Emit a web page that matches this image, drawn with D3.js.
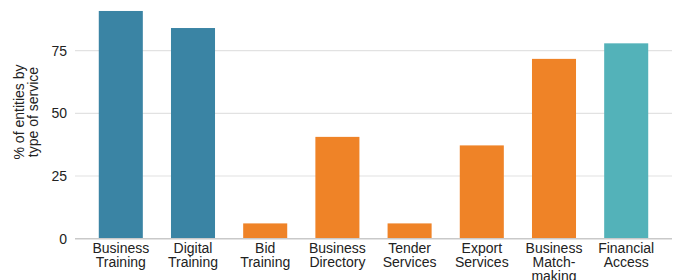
<!DOCTYPE html>
<html>
<head>
<meta charset="utf-8">
<script src="https://cdn.jsdelivr.net/npm/d3@7"></script>
<style>
  body { margin: 0; background: #fff; }
  svg { display: block; font-family: "Liberation Sans", Arial, sans-serif; }
</style>
</head>
<body>
<svg width="676" height="280"></svg>
<script>
var categories = ["Business Training", "Digital Training", "Bid Training", "Business Directory",
    "Tender Services", "Export Services", "Business Match-making", "Financial Access"];
var labelLines = [["Business", "Training"], ["Digital", "Training"], ["Bid", "Training"],
    ["Business", "Directory"], ["Tender", "Services"], ["Export", "Services"],
    ["Business", "Match-", "making"], ["Financial", "Access"]];
var values = [90.8, 84, 6.1, 40.6, 6.1, 37.2, 71.7, 77.9];
var groups = ["training", "training", "market", "market", "market", "market", "market", "finance"];
var yTicks = [0, 25, 50, 75];

var colors = {training: "#3a84a4", market: "#ef8327", finance: "#53b2b9"};

var margin = {top: 0, right: 4, bottom: 0, left: 75};
var width = 676, height = 280;
var baseY = 238.7;

var svg = d3.select("svg");

var xScale = d3.scaleBand()
    .domain(categories)
    .range([84.7, 662.3])
    .paddingInner(0.39)
    .paddingOuter(0.195);

var yScale = d3.scaleLinear()
    .domain([0, 25])
    .range([baseY, baseY - 62.7]);

// gridlines
svg.append("g")
    .selectAll("line")
    .data(yTicks.filter(function(d) { return d > 0; }))
    .enter().append("line")
    .attr("x1", margin.left)
    .attr("x2", width - margin.right)
    .attr("y1", function(d) { return yScale(d); })
    .attr("y2", function(d) { return yScale(d); })
    .attr("stroke", "#e2e2e2")
    .attr("stroke-width", 1.2);

// bars
svg.append("g")
    .selectAll("rect")
    .data(values)
    .enter().append("rect")
    .attr("x", function(d, i) { return xScale(categories[i]); })
    .attr("width", xScale.bandwidth())
    .attr("y", function(d) { return yScale(d); })
    .attr("height", function(d) { return baseY - yScale(d); })
    .attr("fill", function(d, i) { return colors[groups[i]]; });

// baseline
svg.append("line")
    .attr("x1", margin.left)
    .attr("x2", width - margin.right)
    .attr("y1", baseY)
    .attr("y2", baseY)
    .attr("stroke", "#c9c9c9")
    .attr("stroke-width", 1.5);

// y tick labels
svg.append("g")
    .selectAll("text")
    .data(yTicks)
    .enter().append("text")
    .attr("x", 67)
    .attr("y", function(d) { return yScale(d); })
    .attr("dy", "0.35em")
    .attr("text-anchor", "end")
    .attr("font-size", 14)
    .attr("fill", "#222")
    .text(function(d) { return d; });

// y axis title
var title = svg.append("text")
    .attr("transform", "translate(19,112) rotate(-90)")
    .attr("text-anchor", "middle")
    .attr("font-size", 14)
    .attr("fill", "#222");
title.append("tspan").attr("x", 0).attr("dy", "0.35em").text("% of entities by");
title.append("tspan").attr("x", 0).attr("dy", "1em").text("type of service");

// category labels
var xLabels = svg.append("g")
    .selectAll("text")
    .data(categories)
    .enter().append("text")
    .attr("x", function(d) { return xScale(d) + xScale.bandwidth() / 2; })
    .attr("y", 253)
    .attr("text-anchor", "middle")
    .attr("font-size", 14)
    .attr("fill", "#222");

xLabels.each(function(d, i) {
    var t = d3.select(this);
    labelLines[i].forEach(function(line, j) {
        t.append("tspan")
            .attr("x", xScale(d) + xScale.bandwidth() / 2)
            .attr("y", 253 + j * 14)
            .text(line);
    });
});
</script>
</body>
</html>
